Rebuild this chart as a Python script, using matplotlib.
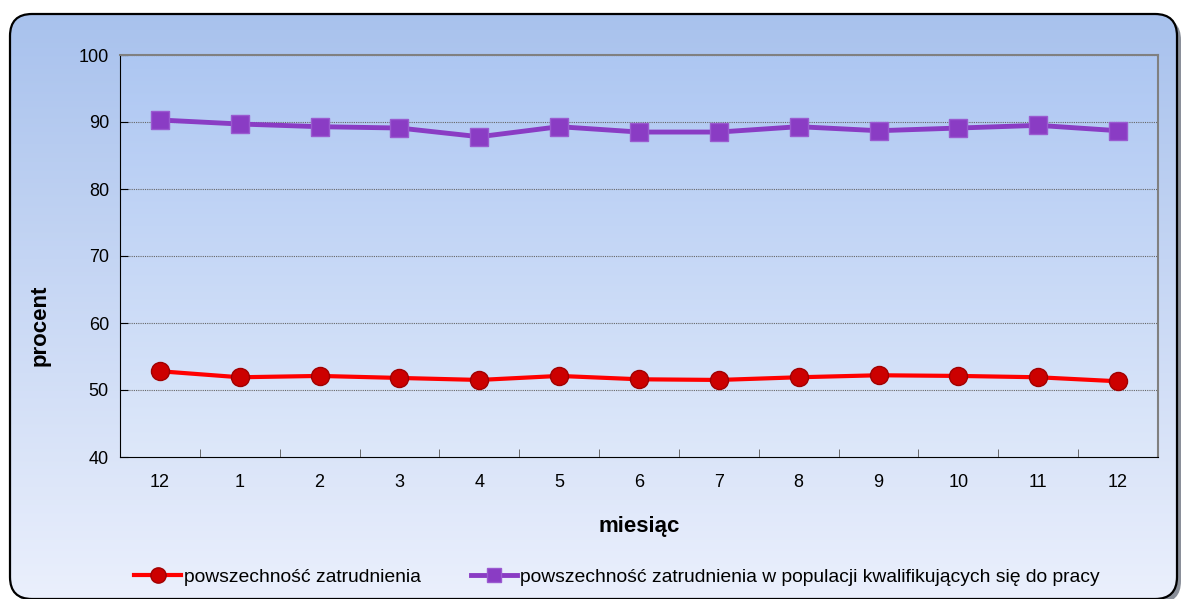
import numpy as np
import matplotlib
matplotlib.use("Agg")
from matplotlib import pyplot as plt
from matplotlib.patches import FancyBboxPatch
from matplotlib.lines import Line2D

plt.rcParams['font.family'] = ['Liberation Sans', 'DejaVu Sans']

months = ['12', '1', '2', '3', '4', '5', '6', '7', '8', '9', '10', '11', '12']
zatrudnienie = [52.8, 51.9, 52.1, 51.8, 51.5, 52.1, 51.6, 51.5, 51.9, 52.2, 52.1, 51.9, 51.3]
kwalifikujacy = [90.3, 89.7, 89.3, 89.1, 87.8, 89.3, 88.5, 88.5, 89.3, 88.7, 89.1, 89.5, 88.7]

W, H = 1189, 599
fig = plt.figure(figsize=(W/100, H/100), dpi=100)
fig.patch.set_facecolor('white')

# outer rounded panel with gradient
bg = fig.add_axes([0, 0, 1, 1])
bg.set_xlim(0, W)
bg.set_ylim(H, 0)
bg.axis('off')
shadow = FancyBboxPatch((14, 18), W - 22, H - 14, boxstyle="round,pad=0,rounding_size=22",
                        fc='#8a8f99', ec='none', zorder=0)
bg.add_patch(shadow)
box = FancyBboxPatch((10, 14), W - 22, H - 14, boxstyle="round,pad=0,rounding_size=22",
                     fc='none', ec='black', lw=1.6, zorder=3)
bg.add_patch(box)
grad = np.linspace(0, 1, 256).reshape(-1, 1)
top = np.array([0.66, 0.76, 0.93])
bot = np.array([0.92, 0.94, 0.99])
img = top + (bot - top) * grad[..., None]
im = bg.imshow(img, extent=(10, W - 12, H, 14), aspect='auto', zorder=1)
clip = FancyBboxPatch((10, 14), W - 22, H - 14, boxstyle="round,pad=0,rounding_size=22",
                      fc='none', ec='none', transform=bg.transData)
im.set_clip_path(clip)

ax = fig.add_axes([120/W, 1 - 457/H, (1158-120)/W, (457-55)/H])
ax.set_zorder(2)
ax.set_facecolor('none')
top2 = np.array([0.68, 0.78, 0.95])
bot2 = np.array([0.87, 0.91, 0.98])
img2 = top2 + (bot2 - top2) * grad[..., None]
ax.imshow(img2, extent=(-0.5, 12.5, 40, 100), aspect='auto', zorder=0)

x = np.arange(len(months))
ax.plot(x, zatrudnienie, color='#ff0000', lw=3, marker='o', ms=13,
        mfc='#cc0000', mec='#a00000', mew=1, zorder=4)
ax.plot(x, kwalifikujacy, color='#8a3cc4', lw=3.5, marker='s', ms=12.5,
        mfc='#8a3cc4', mec='#9a5ad0', mew=1, zorder=4)

ax.set_xlim(-0.5, 12.5)
ax.set_ylim(40, 100)
ax.set_yticks(range(40, 101, 10))
ax.set_xticks(x)
ax.set_xticklabels(months)
ax.set_xticks(np.arange(-0.5, 13, 1), minor=True)
ax.tick_params(axis='x', which='major', length=0, pad=12, labelsize=13)
ax.tick_params(axis='x', which='minor', length=6, direction='in', color='#555555')
ax.tick_params(axis='y', length=6, direction='in', labelsize=13, pad=8)
for v in range(50, 101, 10):
    ax.axhline(v, color='#666666', lw=0.8, ls=(0, (1, 1)), zorder=1)
for side in ['top', 'right']:
    ax.spines[side].set_color('#808080')
    ax.spines[side].set_linewidth(1.5)
ax.spines['left'].set_color('black')
ax.spines['bottom'].set_color('black')

ax.set_ylabel('procent', fontsize=16, fontweight='bold')
ax.yaxis.set_label_coords(-69/1038, (457-325)/402)
ax.set_xlabel('miesiąc', fontsize=16, fontweight='bold', labelpad=18)

h1 = Line2D([], [], color='#ff0000', lw=3, marker='o', ms=11, mfc='#cc0000', mec='#a00000')
h2 = Line2D([], [], color='#8a3cc4', lw=3.5, marker='s', ms=10, mfc='#8a3cc4', mec='#9a5ad0')
fig.legend([h1, h2], ['powszechność zatrudnienia',
                      'powszechność zatrudnienia w populacji kwalifikujących się do pracy'],
           loc='center', bbox_to_anchor=(617/W, 1 - 577/H), ncol=2, frameon=False,
           fontsize=13.9, handlelength=2.4, handletextpad=0.15, columnspacing=2.6)

fig.savefig('out.png', dpi=100)
